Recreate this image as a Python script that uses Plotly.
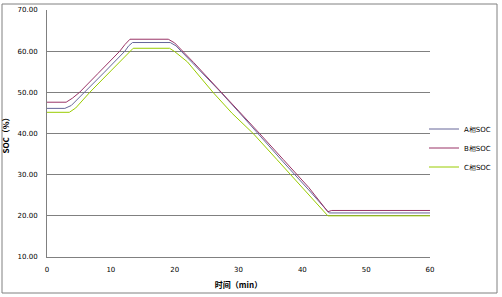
import plotly.graph_objects as go

# ---- data ----
series_names = ["A相SOC", "B相SOC", "C相SOC"]

a_time = [0, 2.8, 3.8, 5.9, 9.0, 12.2, 12.8, 13.4, 19.3, 20.2, 23.0, 27.0, 30.0, 33.0, 37.0, 41.0, 44.2, 60]
a_soc = [46.1, 46.1, 46.8, 50.0, 54.9, 60.0, 61.3, 62.1, 62.1, 61.3, 56.9, 50.4, 45.3, 40.0, 33.1, 26.3, 20.7, 20.7]

b_time = [0, 3.0, 4.0, 5.1, 8.0, 11.4, 12.2, 13.0, 19.0, 20.0, 23.0, 27.0, 30.0, 33.3, 37.0, 41.0, 44.0, 44.6, 60]
b_soc = [47.6, 47.6, 48.6, 50.0, 54.6, 60.0, 61.6, 62.9, 62.9, 62.0, 57.2, 50.6, 45.4, 40.0, 33.7, 26.9, 21.0, 21.3, 21.3]

c_time = [0, 3.5, 4.5, 6.7, 10.0, 13.0, 13.5, 19.2, 20.0, 22.0, 26.0, 29.0, 32.3, 36.0, 40.0, 44.0, 60]
c_soc = [45.15, 45.15, 46.2, 50.0, 55.2, 60.0, 60.7, 60.7, 59.9, 57.4, 50.0, 44.9, 40.0, 33.7, 26.8, 20.0, 20.0]

x_ticks = [0, 10, 20, 30, 40, 50, 60]
y_ticks = [10, 20, 30, 40, 50, 60, 70]
y_tick_text = ["%.2f" % v for v in y_ticks]

colors = ["#666699", "#993366", "#99CC00"]

font_family = "DejaVu Sans"

fig = go.Figure()
for name, t, v, c in zip(series_names, [a_time, b_time, c_time], [a_soc, b_soc, c_soc], colors):
    fig.add_trace(go.Scatter(x=t, y=v, mode="lines", name=name,
                             line=dict(color=c, width=1)))

# plot area: x 47..430, y 10..257 (px)
L, R, T, B = 47, 72, 10, 40
W, H = 502, 297
pw, ph = W - L - R, H - T - B

def px_x(p):
    return (p - L) / pw

def px_y(p):
    return (H - B - p) / ph

fig.update_layout(
    width=W, height=H,
    margin=dict(l=L, r=R, t=T, b=B, autoexpand=False),
    paper_bgcolor="white", plot_bgcolor="white",
    font=dict(family=font_family, size=7, color="black"),
    showlegend=True,
    legend=dict(x=px_x(424), y=px_y(148), xanchor="left", yanchor="middle",
                font=dict(size=7, family=font_family, color="black"),
                bgcolor="rgba(0,0,0,0)", tracegroupgap=0, itemwidth=30),
    xaxis=dict(range=[0, 60], tickvals=x_ticks, ticktext=[str(v) for v in x_ticks],
               showgrid=False, zeroline=False, showline=True, linecolor="#808080",
               linewidth=1, ticks="", ticklabelstandoff=6,
               tickfont=dict(size=7, family=font_family, color="black"),
               title=dict(text="<b>时间（min）</b>", standoff=8,
                          font=dict(size=8, family="Noto Sans CJK SC", color="black"))),
    yaxis=dict(range=[10, 70], tickvals=y_ticks, ticktext=y_tick_text,
               showgrid=True, gridcolor="#808080", gridwidth=1, zeroline=False,
               showline=True, linecolor="#808080", linewidth=1, ticks="",
               ticklabelstandoff=7,
               tickfont=dict(size=7, family=font_family, color="black"),
               title=dict(text="<b>SOC（%）</b>", standoff=12,
                          font=dict(size=8, family="Noto Sans CJK SC", color="black"))),
)

# outer chart border
fig.add_shape(type="rect", xref="paper", yref="paper",
              x0=px_x(2), x1=px_x(497), y0=px_y(293), y1=px_y(4),
              line=dict(color="#808080", width=1), fillcolor="rgba(0,0,0,0)", layer="below")

fig.write_html("out.html")
